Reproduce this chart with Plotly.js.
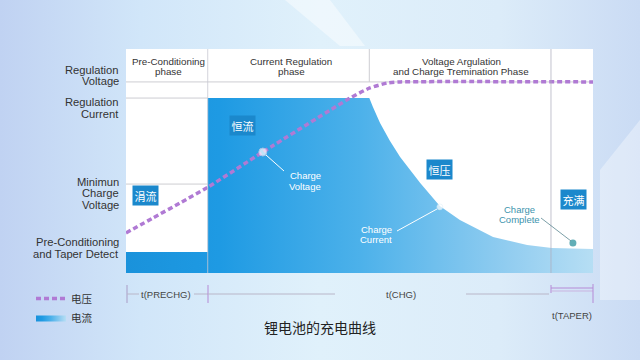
<!DOCTYPE html>
<html>
<head>
<meta charset="utf-8">
<script src="https://cdn.plot.ly/plotly-3.0.1.min.js"></script>
<style>
html,body{margin:0;padding:0;}
body{width:640px;height:360px;overflow:hidden;
background:linear-gradient(90deg,#c0d2f2 0%,#d1e6f9 22%,#e0f1fb 50%,#dcecf9 78%,#cadbf4 100%);}
#chart{width:640px;height:360px;}
</style>
</head>
<body>
<div id="chart"></div>
<script>
// ---- data (time in % of window, level in % of panel height) ----
const phaseNames = ["Pre-Conditioning<br>phase", "Current Regulation<br>phase", "Voltage Argulation<br>and Charge Tremination Phase"];
const phaseBounds = [0, 17.5, 52.1, 91.0, 100];   // pre-charge end, CC end, taper start
const levelNames = ["Regulation Voltage", "Regulation Current", "Minimun Charge Voltage", "Pre-Conditioning and Taper Detect"];
const levelValues = [85.3, 78.1, 39.7, 9.4];

const voltageX = [0, 5.8, 11.6, 17.6, 29.3, 48.0, 52.2, 55.9, 58.7, 100];
const voltageY = [17.9, 24.6, 31.3, 38.4, 54.0, 78.1, 82.6, 84.8, 85.3, 85.3];

const currentX = [0, 17.5, 17.5, 52.1, 52.9, 54.4, 56.5, 58.7, 63.0, 67.2, 71.5, 78.6, 85.9, 91.2, 100];
const currentY = [9.4, 9.4, 78.1, 78.1, 74.0, 67.0, 59.0, 51.8, 40.2, 29.9, 23.7, 16.1, 12.5, 11.2, 10.7];

const pointNames = ["Charge<br>Voltage", "Charge<br>Current", "Charge<br>Complete"];
const pointX = [29.3, 67.2, 95.7];
const pointY = [54.0, 29.5, 13.4];

const badgeText = ["涓流", "恒流", "恒压", "充满"];
const timeLabels = ["t(PRECHG)", "t(CHG)", "t(TAPER)"];
const seriesNames = ["电压", "电流"];
const chartTitle = "锂电池的充电曲线";

// ---- layout helpers (pixel -> paper) ----
const W = 640, H = 360;
const PX = x => x / W, PY = y => 1 - y / H;
const FONT = "Liberation Sans, Arial, sans-serif";
const CJK = "Noto Sans CJK SC, sans-serif";

const traces = [
  {
    type: "scatter", x: currentX, y: currentY, mode: "lines", name: seriesNames[1],
    line: {width: 0, color: "#3aa7e6"}, fill: "tozeroy",
    fillgradient: {type: "horizontal", start: 0, stop: 100,
      colorscale: [[0, "#1a92db"], [0.2, "#1e9ae3"], [0.5, "#4cb1ea"], [0.82, "#92cdf0"], [1, "#b6def4"]]},
    hoverinfo: "skip"
  },
  {
    type: "scatter", x: voltageX, y: voltageY, mode: "lines", name: seriesNames[0],
    line: {color: "#b07ad4", width: 3.5, dash: "5px,3px", shape: "spline", smoothing: 0.6},
    hoverinfo: "skip"
  },
  {
    type: "scatter", x: pointX, y: pointY, mode: "markers", showlegend: false,
    marker: {size: [8, 6, 7], color: ["#ffffff", "#ffffff", "#1e8c98"],
      line: {width: [1, 0.5, 0], color: ["#d8d0ea", "#cfe8f7", "#1e8c98"]}},
    hoverinfo: "skip"
  }
];

const grey = "#cdcdd2";
const shapes = [
  // horizontal level lines
  {type: "line", xref: "x", yref: "y", x0: phaseBounds[0], x1: phaseBounds[4], y0: levelValues[0], y1: levelValues[0], line: {color: grey, width: 1}, layer: "below"},
  {type: "line", xref: "x", yref: "y", x0: phaseBounds[0], x1: phaseBounds[1], y0: levelValues[1], y1: levelValues[1], line: {color: grey, width: 1}, layer: "below"},
  {type: "line", xref: "x", yref: "y", x0: phaseBounds[0], x1: phaseBounds[1], y0: levelValues[2], y1: levelValues[2], line: {color: grey, width: 1}, layer: "below"},
  // vertical phase lines
  {type: "line", xref: "x", yref: "y", x0: phaseBounds[1], x1: phaseBounds[1], y0: 0, y1: 100, line: {color: "rgba(200,200,210,0.8)", width: 1}, layer: "above"},
  {type: "line", xref: "x", yref: "y", x0: phaseBounds[2], x1: phaseBounds[2], y0: levelValues[0], y1: 100, line: {color: grey, width: 1}, layer: "below"},
  {type: "line", xref: "x", yref: "y", x0: phaseBounds[3], x1: phaseBounds[3], y0: 0, y1: 100, line: {color: "rgba(175,175,190,0.75)", width: 1}, layer: "above"},
  // connectors
  {type: "line", xref: "paper", yref: "paper", x0: PX(266), y0: PY(155), x1: PX(284), y1: PY(171), line: {color: "#ffffff", width: 1}},
  {type: "line", xref: "paper", yref: "paper", x0: PX(437), y0: PY(209), x1: PX(397), y1: PY(231), line: {color: "#ffffff", width: 1}},
  {type: "line", xref: "paper", yref: "paper", x0: PX(541), y0: PY(218), x1: PX(571), y1: PY(241), line: {color: "#5a8690", width: 0.8}},
  // time axis
  {type: "line", xref: "paper", yref: "paper", x0: PX(127), y0: PY(285), x1: PX(127), y1: PY(303), line: {color: "#a99cc6", width: 1}},
  {type: "line", xref: "paper", yref: "paper", x0: PX(127), y0: PY(294), x1: PX(139), y1: PY(294), line: {color: "#b9b6c8", width: 1}},
  {type: "line", xref: "paper", yref: "paper", x0: PX(194), y0: PY(294), x1: PX(208), y1: PY(294), line: {color: "#b9b6c8", width: 1}},
  {type: "line", xref: "paper", yref: "paper", x0: PX(208), y0: PY(285), x1: PX(208), y1: PY(303), line: {color: "#b58ad6", width: 1}},
  {type: "line", xref: "paper", yref: "paper", x0: PX(208), y0: PY(294), x1: PX(335), y1: PY(294), line: {color: "#b9b6c8", width: 1}},
  {type: "line", xref: "paper", yref: "paper", x0: PX(466), y0: PY(294), x1: PX(549), y1: PY(294), line: {color: "#b9b6c8", width: 1}},
  {type: "line", xref: "paper", yref: "paper", x0: PX(551), y0: PY(285), x1: PX(551), y1: PY(293), line: {color: "#b58ad6", width: 1}},
  {type: "line", xref: "paper", yref: "paper", x0: PX(551), y0: PY(288), x1: PX(593), y1: PY(288), line: {color: "#b58ad6", width: 1}},
  {type: "line", xref: "paper", yref: "paper", x0: PX(551), y0: PY(291), x1: PX(593), y1: PY(291), line: {color: "#c9b3e0", width: 1}},
  {type: "line", xref: "paper", yref: "paper", x0: PX(593), y0: PY(284), x1: PX(593), y1: PY(303), line: {color: "#b58ad6", width: 1}},
  // background light streaks
  {type: "path", xref: "paper", yref: "paper", path: `M ${PX(285)} ${PY(0)} L ${PX(330)} ${PY(0)} L ${PX(365)} ${PY(46)} L ${PX(340)} ${PY(46)} Z`, fillcolor: "rgba(255,255,255,0.45)", line: {width: 0}, layer: "below"},
  {type: "path", xref: "paper", yref: "paper", path: `M ${PX(640)} ${PY(120)} L ${PX(640)} ${PY(300)} L ${PX(600)} ${PY(300)} L ${PX(600)} ${PY(170)} Z`, fillcolor: "rgba(255,255,255,0.35)", line: {width: 0}, layer: "below"}
];

const ann = [];
function txt(text, x, y, opt) {
  ann.push(Object.assign({text: text, xref: "paper", yref: "paper", x: PX(x), y: PY(y), showarrow: false,
    xanchor: "center", yanchor: "middle", font: {family: FONT, size: 10, color: "#333333"}}, opt || {}));
}
// phase titles
const phaseCx = [168, 291, 461];
phaseNames.forEach((t, i) => {
  const parts = t.split("<br>");
  txt(parts[0], phaseCx[i], 61.7, {font: {family: FONT, size: 9.8, color: "#333"}});
  txt(parts[1], phaseCx[i], 71.7, {font: {family: FONT, size: 9.8, color: "#333"}});
});
// level labels (left)
const levelLines = [["Regulation", "Voltage"], ["Regulation", "Current"], ["Minimun", "Charge", "Voltage"], ["Pre-Conditioning", "and Taper Detect"]];
const levelLineY = [[69.5, 81.5], [101.8, 113.5], [181.5, 193, 204.5], [242, 253.5]];
levelLines.forEach((lines, i) => lines.forEach((l, j) => {
  txt(l, 121, levelLineY[i][j], {xanchor: "right", font: {family: FONT, size: 11.2, color: "#333"}});
}));
// badges
const badgePos = [[145.5, 195.5], [242, 125], [439.5, 169], [573.5, 199.5]];
badgeText.forEach((b, i) => {
  txt(b, badgePos[i][0], badgePos[i][1], {font: {family: CJK, size: 11, color: "#ffffff"}, bgcolor: "#1b88cc", borderpad: 1.5});
});
// point labels
const pointLabelPos = [[[305, 175], [305, 186]], [[376, 229], [376, 239]], [[519, 209.5], [519, 219.5]]];
const pointLabelColor = ["#ffffff", "#ffffff", "#3d93ad"];
pointNames.forEach((p, i) => p.split("<br>").forEach((l, j) => {
  txt(l, pointLabelPos[i][j][0], pointLabelPos[i][j][1], {font: {family: FONT, size: 9.5, color: pointLabelColor[i]}});
}));
// time labels
txt(timeLabels[0], 166, 294, {font: {family: FONT, size: 9.5, color: "#444"}});
txt(timeLabels[1], 401, 294, {font: {family: FONT, size: 9.5, color: "#444"}});
txt(timeLabels[2], 572, 315, {font: {family: FONT, size: 9.5, color: "#444"}});
// title
txt(chartTitle, 320, 327, {font: {family: CJK, size: 14, color: "#222"}});

const layout = {
  width: W, height: H,
  margin: {l: 0, r: 0, t: 0, b: 0},
  paper_bgcolor: "rgba(0,0,0,0)",
  plot_bgcolor: "#ffffff",
  xaxis: {domain: [PX(126), PX(593)], range: [0, 100], visible: false, fixedrange: true},
  yaxis: {domain: [PY(273), PY(49)], range: [0, 100], visible: false, fixedrange: true},
  showlegend: true,
  legend: {x: PX(31), y: PY(284), xanchor: "left", yanchor: "top", bgcolor: "rgba(0,0,0,0)",
    traceorder: "reversed", font: {family: CJK, size: 10.5, color: "#333"}, itemwidth: 30},
  shapes: shapes,
  annotations: ann
};

Plotly.newPlot("chart", traces, layout, {staticPlot: true, displayModeBar: false});
</script>
</body>
</html>
